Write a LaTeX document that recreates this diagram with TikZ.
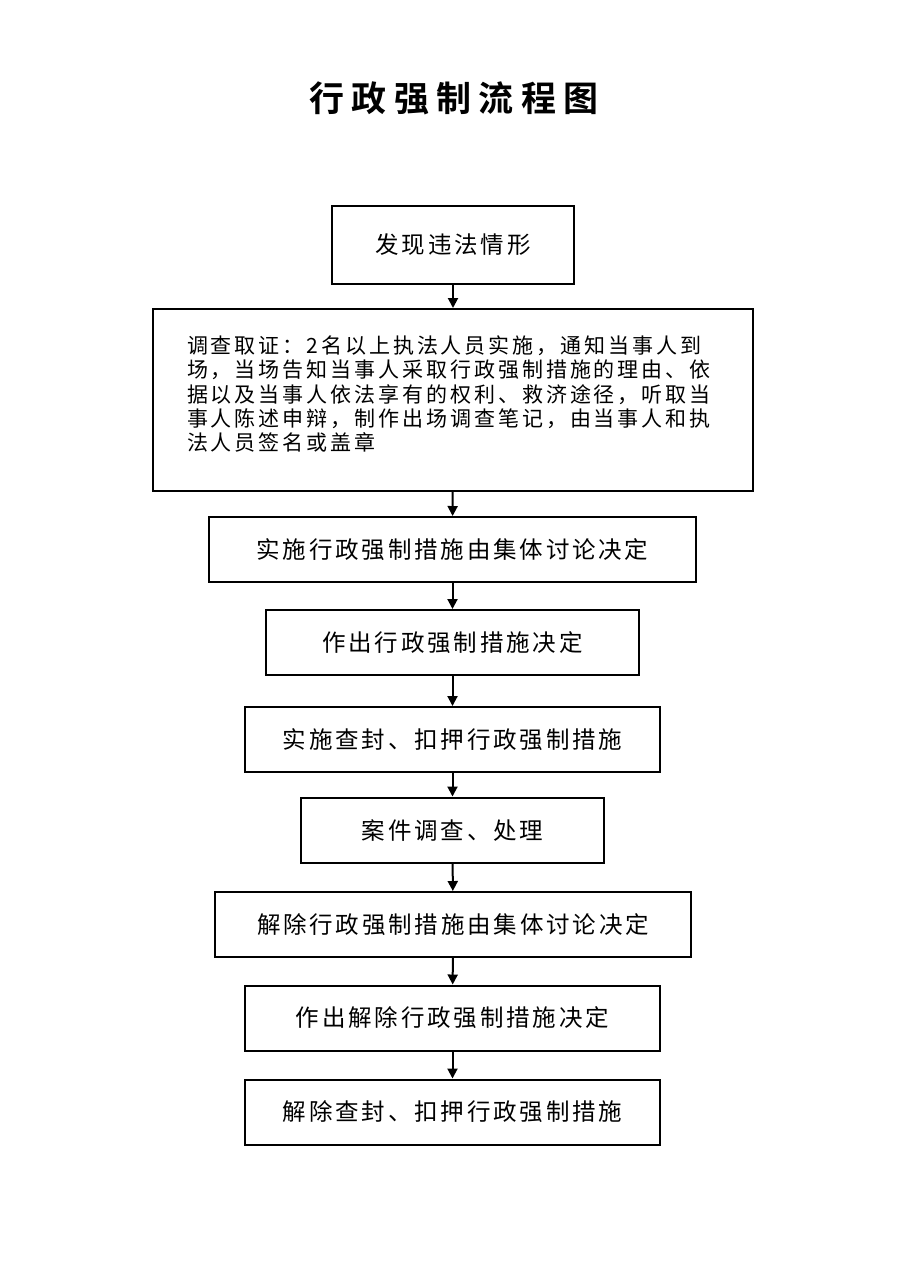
\documentclass[tikz,border=0pt]{standalone}
\usepackage{fontspec}
\usepackage{tikz}
\usetikzlibrary{arrows.meta}
\newfontfamily\cjk[LetterSpace=12]{Noto Sans CJK SC}
\newfontfamily\cjknote[LetterSpace=14]{Noto Sans CJK SC}
\newfontfamily\cjktitle[LetterSpace=21]{Noto Sans CJK SC Bold}
\tikzset{
	stepbox/.style={draw, line width=2pt, minimum height=65pt, inner sep=0pt, font=\cjk\fontsize{23.5}{28}\selectfont},
	flow/.style={line width=2pt, -{Triangle[length=10pt,width=10pt]}}
}

\begin{document}
\begin{tikzpicture}[x=1pt, y=-1pt]
	\useasboundingbox (0, 0) rectangle (905, 1280);
	\fill[white] (0, 0) rectangle (905, 1280);
	%%
	\node[font=\cjktitle\fontsize{35}{40}\selectfont] (title) at (454, 98) {行政强制流程图};
	%%
	\node[stepbox, minimum width=242pt, minimum height=78pt] (find) at (453, 245) {发现违法情形};
	\node[stepbox, minimum width=600pt, minimum height=182pt] (probe) at (453, 400) {};
	\node[text width=532pt, align=left, inner sep=0pt, font=\cjknote\fontsize{21}{24.4}\selectfont]
		(probetext) at ([yshift=6pt]probe.center) {调查取证：2名以上执法人员实施，通知当事人到\\场，当场告知当事人采取行政强制措施的理由、依\\据以及当事人依法享有的权利、救济途径，听取当\\事人陈述申辩，制作出场调查笔记，由当事人和执\\法人员签名或盖章};
	\node[stepbox, minimum width=487pt] (discuss) at (452.5, 549.5) {实施行政强制措施由集体讨论决定};
	\node[stepbox, minimum width=373pt] (decide) at (452.5, 642.5) {作出行政强制措施决定};
	\node[stepbox, minimum width=415pt] (seize) at (452.5, 739.5) {实施查封、扣押行政强制措施};
	\node[stepbox, minimum width=303pt] (handle) at (452.5, 830) {案件调查、处理};
	\node[stepbox, minimum width=476pt] (rdiscuss) at (453, 924.5) {解除行政强制措施由集体讨论决定};
	\node[stepbox, minimum width=415pt] (rdecide) at (452.5, 1018) {作出解除行政强制措施决定};
	\node[stepbox, minimum width=415pt] (release) at (452.5, 1112) {解除查封、扣押行政强制措施};
	%%
	\draw[flow] (find) -- (probe);
	\draw[flow] (probe) -- (discuss);
	\draw[flow] (discuss) -- (decide);
	\draw[flow] (decide) -- (seize);
	\draw[flow] (seize) -- (handle);
	\draw[flow] (handle) -- (rdiscuss);
	\draw[flow] (rdiscuss) -- (rdecide);
	\draw[flow] (rdecide) -- (release);
\end{tikzpicture}
\end{document}
